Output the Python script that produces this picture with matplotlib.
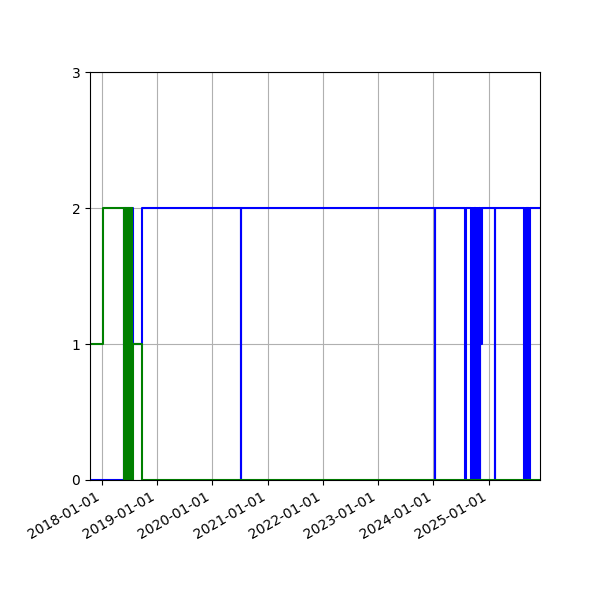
import matplotlib
matplotlib.use("Agg")
import matplotlib.pyplot as plt
import matplotlib.dates as mdates
import pandas as pd

green_dates = ["2017-10-17", "2018-01-11", "2018-05-29", "2018-06-02", "2018-06-06",
               "2018-06-10", "2018-06-14", "2018-06-18", "2018-06-22", "2018-06-26",
               "2018-06-30", "2018-07-04", "2018-07-08", "2018-07-12", "2018-07-16",
               "2018-07-20", "2018-07-23", "2018-07-26", "2018-09-25", "2025-12-04"]
green_vals = [1, 2, 0, 2, 0, 2, 0, 2, 0, 2, 0, 2, 0, 2, 0, 2, 0, 1, 0, 0]

blue_dates = ["2017-10-17", "2018-05-29", "2018-06-02", "2018-06-06", "2018-06-10",
              "2018-06-14", "2018-06-18", "2018-06-22", "2018-06-26", "2018-06-30",
              "2018-07-04", "2018-07-08", "2018-07-12", "2018-07-16", "2018-07-20",
              "2018-07-23", "2018-07-26", "2018-09-25",
              "2020-07-08", "2020-07-10",
              "2024-01-09", "2024-01-11",
              "2024-07-29", "2024-08-03",
              "2024-09-05", "2024-09-09", "2024-09-13", "2024-09-17", "2024-09-21",
              "2024-09-25", "2024-09-29", "2024-10-03", "2024-10-07", "2024-10-11",
              "2024-10-15", "2024-10-19", "2024-10-23", "2024-10-27", "2024-10-31",
              "2024-11-03", "2024-11-06", "2024-11-09", "2024-11-12", "2024-11-15",
              "2025-02-11", "2025-02-13",
              "2025-08-21", "2025-08-25", "2025-08-29", "2025-09-02", "2025-09-06",
              "2025-09-10", "2025-09-14", "2025-09-18", "2025-09-22", "2025-09-26",
              "2025-09-29",
              "2025-12-04"]
blue_vals = [0, 2, 0, 2, 0, 2, 0, 2, 0, 2, 0, 2, 0, 2, 0, 2, 1, 2,
             0, 2,
             0, 2,
             0, 2,
             0, 2, 0, 2, 0, 2, 0, 2, 0, 2, 0, 2, 0, 2, 0,
             2, 1, 2, 1, 2,
             0, 2,
             0, 2, 0, 2, 0, 2, 0, 2, 0, 2,
             2,
             2]

gd = pd.to_datetime(green_dates)
bd = pd.to_datetime(blue_dates)

fig, ax = plt.subplots(figsize=(6, 6), dpi=100)
fig.subplots_adjust(left=0.15, right=0.9, top=0.88, bottom=0.2)

ax.plot(bd, blue_vals, drawstyle="steps-post", color="blue", linewidth=1.5)
ax.plot(gd, green_vals, drawstyle="steps-post", color="green", linewidth=1.5)

ax.set_xlim(gd[0], gd[-1])
ax.set_ylim(0, 3)
ax.set_yticks([0, 1, 2, 3])
ax.xaxis.set_major_locator(mdates.YearLocator())
ax.xaxis.set_major_formatter(mdates.DateFormatter("%Y-%m-%d"))
ax.grid(True)
for lbl in ax.get_xticklabels():
    lbl.set_rotation(30)
    lbl.set_ha("right")

fig.savefig("out.png", dpi=100)
